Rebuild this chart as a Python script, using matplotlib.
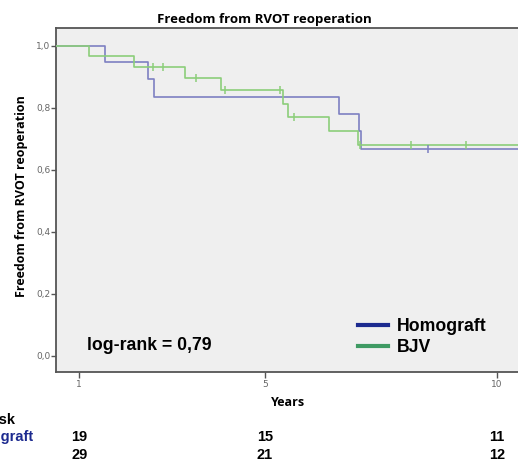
import matplotlib
matplotlib.use("Agg")
import matplotlib.pyplot as plt
import matplotlib.transforms as mtransforms
from matplotlib.lines import Line2D
import numpy as np

# ---- data ----
homograft_times = [0.0, 1.56, 2.48, 2.62, 6.59, 7.02, 7.08]
homograft_surv = [1.0, 0.947, 0.895, 0.835, 0.780, 0.726, 0.667]
homograft_censor = [8.51]

bjv_times = [0.0, 1.22, 2.19, 3.27, 4.06, 5.39, 5.50, 6.39, 7.00]
bjv_surv = [1.0, 0.968, 0.933, 0.896, 0.858, 0.813, 0.772, 0.726, 0.680]
bjv_censor = [2.60, 2.80, 3.52, 4.15, 5.32, 5.64, 7.06, 8.16, 9.33]

x_ticks = [1, 5, 10]
x_ticklabels = ["1", "5", "10"]
y_ticks = [0.0, 0.2, 0.4, 0.6, 0.8, 1.0]
y_ticklabels = ["0,0", "0,2", "0,4", "0,6", "0,8", "1,0"]

risk_times = [1, 5, 10]
homograft_risk = [19, 15, 11]
bjv_risk = [29, 21, 12]

series_names = ["Homograft", "BJV"]
title = "Freedom from RVOT reoperation"
ylabel = "Freedom from RVOT reoperation"
xlabel = "Years"
logrank_text = "log-rank = 0,79"

# ---- styling ----
W, H = 518, 463
fig = plt.figure(figsize=(W / 100, H / 100), dpi=100)
fig.patch.set_facecolor("white")

def px(x, y):
    return x / W, 1 - y / H

ax = fig.add_axes([56 / W, 1 - 372 / H, (520 - 56) / W, (372 - 28) / H])
ax.set_facecolor("#efefef")
ax.set_xlim(0.5, 10.5)
ax.set_ylim(-0.052, 1.058)

line_blue = "#7d80c2"
line_green = "#8cce7a"
leg_blue = "#1c2a8f"
leg_green = "#3f9a63"

def step_values(times, surv, t):
    idx = np.searchsorted(times, t, side="right") - 1
    return np.asarray(surv)[idx]

for times, surv, cens, col in [
    (homograft_times, homograft_surv, homograft_censor, line_blue),
    (bjv_times, bjv_surv, bjv_censor, line_green),
]:
    tt = list(times) + [11.0]
    ss = list(surv) + [surv[-1]]
    ax.step(tt, ss, where="post", color=col, lw=1.2, zorder=3)
    cy = step_values(times, surv, cens)
    ax.plot(cens, cy, linestyle="none", marker="|", markersize=6,
            markeredgewidth=1.1, color=col, zorder=4)

for s in ax.spines.values():
    s.set_color("#555555")
    s.set_linewidth(1.3)

ax.set_xticks(x_ticks)
ax.set_xticklabels(x_ticklabels, fontsize=6.5, color="#666666", family="DejaVu Sans")
ax.set_yticks(y_ticks)
ax.set_yticklabels(y_ticklabels, fontsize=6.5, color="#666666", family="DejaVu Sans")
ax.tick_params(axis="y", length=3.5, width=1.0, color="#555555", pad=0.5)
ax.tick_params(axis="x", length=4.5, width=1.0, color="#555555", pad=1.5)

fig.text(*px(264, 20), title, ha="center", va="center", fontsize=9.5,
         fontweight="bold", family="Open Sans")
fig.text(*px(22, 196), ylabel, ha="center", va="center", rotation=90,
         fontsize=9.0, fontweight="bold", family="Open Sans")
fig.text(*px(288, 403), xlabel, ha="center", va="center", fontsize=9.0,
         fontweight="bold", family="Open Sans")

fig.text(*px(87, 345), logrank_text, ha="left", va="center", fontsize=12.7,
         fontweight="bold", family="Liberation Sans")

handles = [Line2D([0], [0], color=leg_blue, lw=3),
           Line2D([0], [0], color=leg_green, lw=3)]
leg = fig.legend(handles, series_names, loc="center left",
                 bbox_to_anchor=px(358, 337), frameon=False,
                 prop={"family": "Liberation Sans", "weight": "bold", "size": 12.7},
                 handlelength=1.7, handletextpad=0.5, labelspacing=0.25,
                 borderaxespad=0, borderpad=0)

# risk table
fig.text(*px(15, 420), "Patients at risk", ha="right", va="center",
         fontsize=10.5, fontweight="bold", family="Liberation Sans")
fig.text(*px(33, 437), series_names[0], ha="right", va="center",
         fontsize=10.5, fontweight="bold", family="Liberation Sans", color=leg_blue)
fig.text(*px(-8, 455), series_names[1], ha="right", va="center",
         fontsize=10.5, fontweight="bold", family="Liberation Sans", color=leg_green)

trans = mtransforms.blended_transform_factory(ax.transData, fig.transFigure)
for t, n1, n2 in zip(risk_times, homograft_risk, bjv_risk):
    fig.text(t, 1 - 437 / H, str(n1), transform=trans, ha="center", va="center",
             fontsize=10.5, fontweight="bold", family="Liberation Sans")
    fig.text(t, 1 - 455 / H, str(n2), transform=trans, ha="center", va="center",
             fontsize=10.5, fontweight="bold", family="Liberation Sans")

fig.savefig("out.png", dpi=100)
